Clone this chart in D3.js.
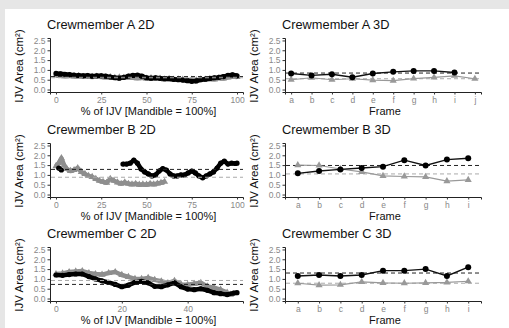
<!DOCTYPE html>
<html>
<head>
<meta charset="utf-8">
<script src="https://cdn.jsdelivr.net/npm/d3@7"></script>
<style>
  html, body { margin: 0; padding: 0; background: #e6e6e6; }
  svg { display: block; font-family: "Liberation Sans", Arial, sans-serif; }
</style>
</head>
<body>
<svg id="chart" width="509" height="328"></svg>
<script>
// ---- data ----
const framesA = ['a', 'b', 'c', 'd', 'e', 'f', 'g', 'h', 'i', 'j'];
const framesBC = ['a', 'b', 'c', 'd', 'e', 'f', 'g', 'h', 'i'];
const yTicks = [0, 0.5, 1, 1.5, 2, 2.5];

// Crewmember A 2D
const a2dBlackX = [0, 2.5, 5, 7.5, 10, 12.5, 15, 17.5, 20, 22.5, 25, 27.5, 30, 32.5, 35, 37.5, 40, 42.5, 45, 47.5, 50, 52.5, 55, 57.5, 60, 62.5, 65, 67.5, 70, 72.5, 75, 77.5, 80, 82.5, 85, 87.5, 90, 92.5, 95, 97.5, 100];
const a2dBlackY = [0.82, 0.8, 0.78, 0.76, 0.73, 0.72, 0.7, 0.71, 0.68, 0.7, 0.7, 0.68, 0.64, 0.6, 0.58, 0.62, 0.68, 0.72, 0.73, 0.68, 0.6, 0.58, 0.6, 0.57, 0.55, 0.55, 0.52, 0.5, 0.48, 0.45, 0.42, 0.44, 0.5, 0.53, 0.56, 0.6, 0.62, 0.66, 0.72, 0.75, 0.7];
const a2dGrayX = [0, 2.5, 5, 7.5, 10, 12.5, 15, 17.5, 20, 22.5, 25, 27.5, 30, 32.5, 35, 37.5, 40, 42.5, 45, 47.5, 50, 52.5, 55, 57.5, 60, 62.5, 65, 67.5, 70, 72.5, 75, 77.5, 80, 82.5, 85, 87.5, 90, 92.5, 95, 97.5, 100];
const a2dGrayY = [0.72, 0.7, 0.68, 0.7, 0.67, 0.68, 0.65, 0.66, 0.64, 0.66, 0.64, 0.62, 0.63, 0.6, 0.62, 0.6, 0.62, 0.6, 0.58, 0.6, 0.56, 0.58, 0.55, 0.56, 0.52, 0.55, 0.5, 0.52, 0.5, 0.48, 0.5, 0.47, 0.52, 0.5, 0.55, 0.52, 0.58, 0.56, 0.62, 0.66, 0.64];
const a2dMeans = [0.66, 0.6];

// Crewmember B 2D
const b2dBlackX = [1.5, 3, 37, 39, 41, 43, 45, 47, 49, 51, 53, 55, 57, 59, 61, 63, 65, 67, 69, 71, 73, 75, 77, 79, 81, 83, 85, 87, 89, 91, 93, 95, 97, 99, 100];
const b2dBlackY = [1.35, 1.25, 1.55, 1.55, 1.6, 1.75, 1.6, 1.3, 1.15, 1.05, 0.95, 1.0, 1.2, 1.32, 1.25, 1.05, 0.95, 0.95, 1.0, 1.0, 1.1, 1.2, 1.1, 0.95, 0.85, 0.95, 1.05, 1.15, 1.35, 1.6, 1.7, 1.55, 1.6, 1.58, 1.6];
const b2dGrayX = [0, 1.5, 3, 4.5, 6, 8, 10, 12, 14, 16, 18, 20, 22, 24, 26, 28, 30, 32, 34, 36, 38, 40, 42, 44, 46, 48, 50, 52, 54, 56, 58, 60];
const b2dGrayY = [1.45, 1.6, 1.85, 1.5, 1.3, 1.2, 1.25, 1.35, 1.15, 1.05, 0.95, 0.9, 0.8, 0.7, 0.65, 0.6, 0.8, 0.7, 0.62, 0.55, 0.62, 0.55, 0.52, 0.55, 0.5, 0.52, 0.5, 0.55, 0.52, 0.56, 0.6, 0.65];
const b2dMeans = [1.28, 0.88];

// Crewmember C 2D
const c2dBlackX = [0, 2, 4, 6, 8, 10, 12, 14, 16, 18, 20, 22, 24, 26, 28, 30, 32, 34, 36, 38, 40, 42, 44, 46, 48, 50, 52, 54, 55];
const c2dBlackY = [1.2, 1.18, 1.22, 1.25, 1.25, 1.12, 1.0, 0.9, 0.82, 0.72, 0.6, 0.68, 0.82, 0.88, 0.8, 0.62, 0.6, 0.7, 0.8, 0.6, 0.48, 0.45, 0.5, 0.42, 0.3, 0.25, 0.2, 0.28, 0.3];
const c2dGrayX = [0, 2, 4, 6, 8, 10, 12, 14, 16, 18, 20, 22, 24, 26, 28, 30, 32, 34, 36, 38, 40, 42, 44, 46, 48, 50, 52, 53];
const c2dGrayY = [1.25, 1.28, 1.35, 1.38, 1.4, 1.3, 1.25, 1.22, 1.3, 1.35, 1.2, 1.1, 1.0, 1.0, 1.05, 0.95, 0.88, 0.78, 0.9, 0.72, 0.7, 0.75, 0.8, 0.62, 0.55, 0.45, 0.3, 0.2];
const c2dMeans = [0.72, 0.92];

// Crewmember 3D
const a3dBlack = [0.82, 0.72, 0.78, 0.63, 0.82, 0.9, 0.95, 0.95, 0.87];
const a3dGray = [0.5, 0.6, 0.5, 0.55, 0.48, 0.45, 0.56, 0.62, 0.7, 0.55];
const a3dMeans = [0.84, 0.55];
const b3dBlack = [1.08, 1.2, 1.28, 1.35, 1.42, 1.75, 1.48, 1.78, 1.85];
const b3dGray = [1.5, 1.48, 1.3, 1.15, 0.95, 0.92, 0.9, 0.68, 0.75];
const b3dMeans = [1.48, 1.05];
const c3dBlack = [1.15, 1.2, 1.15, 1.2, 1.42, 1.42, 1.5, 1.15, 1.6];
const c3dGray = [0.78, 0.68, 0.7, 0.85, 0.8, 0.78, 0.8, 0.82, 0.88];
const c3dMeans = [1.3, 0.78];

// ---- layout ----
const svg = d3.select('#chart');
svg.append('rect').attr('x', 5).attr('y', 9).attr('width', 504).attr('height', 319).attr('fill', '#fff');

const GRAY = '#8e8e8e';
const rows = [0, 105, 209];
const cols = { left: { x0: 50, x1: 243 }, right: { x0: 285, x1: 481 } };

function yScaleFor(dy) {
  return d3.scaleLinear().domain([-0.125, 2.625]).range([92 + dy, 38 + dy]);
}

function frame(g, x0, x1, dy, title, xTitle, yScale) {
  g.append('text').attr('x', x0 - 3).attr('y', 29 + dy).attr('font-size', 12.8).attr('fill', '#111').text(title);
  g.append('text')
    .attr('transform', `translate(${x0 - 27},${yScale(1.2)}) rotate(-90)`)
    .attr('text-anchor', 'middle').attr('font-size', 11.5).attr('fill', '#111')
    .text('IJV Area (cm²)');
  g.append('text').attr('x', (x0 + x1) / 2 + 2).attr('y', 114.5 + dy)
    .attr('text-anchor', 'middle').attr('font-size', 11).attr('fill', '#111').text(xTitle);

  const ya = g.append('g').attr('transform', `translate(${x0},0)`)
    .call(d3.axisLeft(yScale).tickValues(yTicks).tickFormat(d3.format('.1f')).tickSize(2.5).tickPadding(2));
  ya.select('.domain').attr('stroke', '#222');
  ya.selectAll('.tick line').attr('stroke', '#333');
  ya.selectAll('text').attr('font-size', 8.5).attr('fill', '#888').attr('font-family', 'Liberation Sans, Arial, sans-serif');
}

function styleXAxis(xa) {
  xa.select('.domain').attr('stroke', '#222');
  xa.selectAll('.tick line').attr('stroke', '#333');
  xa.selectAll('text').attr('font-size', 8.5).attr('fill', '#888').attr('font-family', 'Liberation Sans, Arial, sans-serif');
}

function meanLines(g, x0, x1, y, means) {
  g.append('line').attr('x1', x0).attr('x2', x1).attr('y1', y(means[0])).attr('y2', y(means[0]))
    .attr('stroke', '#222').attr('stroke-width', 1).attr('stroke-dasharray', '4,3');
  g.append('line').attr('x1', x0).attr('x2', x1).attr('y1', y(means[1])).attr('y2', y(means[1]))
    .attr('stroke', '#aaa').attr('stroke-width', 1).attr('stroke-dasharray', '4,3');
}

const tri = d3.symbol().type(d3.symbolTriangle);

function panel2D(dy, title, xMax, xTickVals, bx, by, gx, gy, means) {
  const { x0, x1 } = cols.left;
  const y = yScaleFor(dy);
  const pad = (xMax) * 0.033;
  const x = d3.scaleLinear().domain([-pad, xMax + pad]).range([x0, x1]);
  const g = svg.append('g');
  frame(g, x0, x1, dy, title, '% of IJV [Mandible = 100%]', y);
  const xa = g.append('g').attr('transform', `translate(0,${92 + dy})`)
    .call(d3.axisBottom(x).tickValues(xTickVals).tickSize(2.5).tickPadding(2));
  styleXAxis(xa);

  const gPts = d3.zip(gx, gy);
  const bPts = d3.zip(bx, by);
  const line = d3.line().x(d => x(d[0])).y(d => y(d[1]));
  // gray series (triangles)
  g.append('path').attr('d', line(gPts)).attr('fill', 'none').attr('stroke', GRAY).attr('stroke-width', 4.5).attr('stroke-linejoin', 'round');
  g.selectAll('.gt').data(gPts).join('path')
    .attr('transform', d => `translate(${x(d[0])},${y(d[1])})`).attr('d', tri.size(22)).attr('fill', GRAY);
  // black series (circles), split where there is a gap
  const segs = [];
  let cur = [];
  bPts.forEach((p, i) => {
    if (i > 0 && p[0] - bPts[i - 1][0] > 10) { segs.push(cur); cur = []; }
    cur.push(p);
  });
  segs.push(cur);
  segs.forEach(s => g.append('path').attr('d', line(s)).attr('fill', 'none').attr('stroke', '#000').attr('stroke-width', 4.5).attr('stroke-linejoin', 'round'));
  g.selectAll('.bc').data(bPts).join('circle')
    .attr('cx', d => x(d[0])).attr('cy', d => y(d[1])).attr('r', 2.6).attr('fill', '#000');
  meanLines(g, x0 + 1, x1, y, means);
}

function panel3D(dy, title, cats, black, gray, means) {
  const { x0, x1 } = cols.right;
  const y = yScaleFor(dy);
  const x = d3.scalePoint().domain(cats).range([x0, x1]).padding(cats.length > 9 ? 0.3 : 0.6);
  const g = svg.append('g');
  frame(g, x0, x1, dy, title, 'Frame', y);
  const xa = g.append('g').attr('transform', `translate(0,${92 + dy})`)
    .call(d3.axisBottom(x).tickSize(2.5).tickPadding(2));
  styleXAxis(xa);
  meanLines(g, x0 + 1, x1, y, means);

  const gl = d3.line().x((d, i) => x(cats[i])).y(d => y(d));
  g.append('path').attr('d', gl(gray)).attr('fill', 'none').attr('stroke', '#999').attr('stroke-width', 1.2);
  g.selectAll('.gt').data(gray).join('path')
    .attr('transform', (d, i) => `translate(${x(cats[i])},${y(d)})`).attr('d', tri.size(22)).attr('fill', '#999');
  g.append('path').attr('d', gl(black)).attr('fill', 'none').attr('stroke', '#111').attr('stroke-width', 1.4);
  g.selectAll('.bc').data(black).join('circle')
    .attr('cx', (d, i) => x(cats[i])).attr('cy', d => y(d)).attr('r', 3).attr('fill', '#000');
}

panel2D(rows[0], 'Crewmember A 2D', 100, [0, 25, 50, 75, 100], a2dBlackX, a2dBlackY, a2dGrayX, a2dGrayY, a2dMeans);
panel2D(rows[1], 'Crewmember B 2D', 100, [0, 25, 50, 75, 100], b2dBlackX, b2dBlackY, b2dGrayX, b2dGrayY, b2dMeans);
panel2D(rows[2], 'Crewmember C 2D', 55, [0, 20, 40], c2dBlackX, c2dBlackY, c2dGrayX, c2dGrayY, c2dMeans);
panel3D(rows[0], 'Crewmember A 3D', framesA, a3dBlack, a3dGray, a3dMeans);
panel3D(rows[1], 'Crewmember B 3D', framesBC, b3dBlack, b3dGray, b3dMeans);
panel3D(rows[2], 'Crewmember C 3D', framesBC, c3dBlack, c3dGray, c3dMeans);
</script>
</body>
</html>
